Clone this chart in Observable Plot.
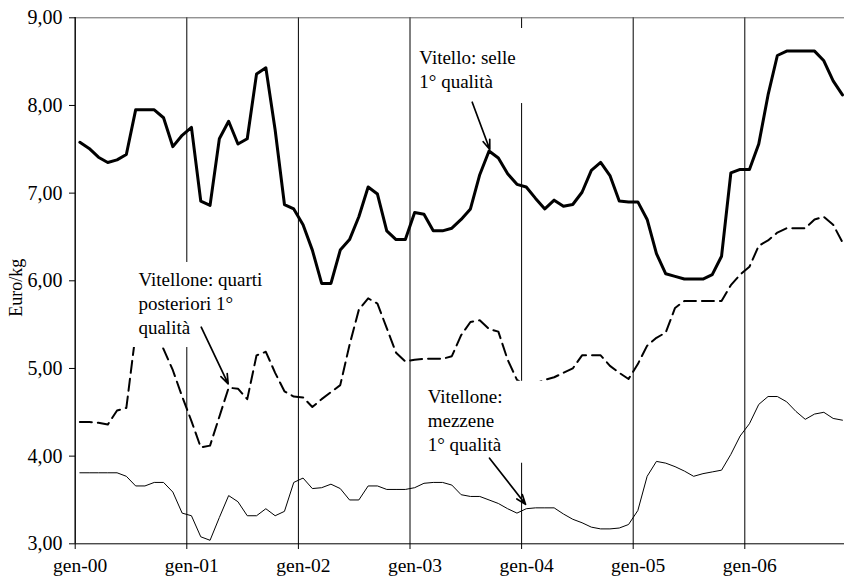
<!DOCTYPE html>
<html><head><meta charset="utf-8">
<script src="https://cdn.jsdelivr.net/npm/d3@7"></script>
<script src="https://cdn.jsdelivr.net/npm/@observablehq/plot@0.6"></script>
<style>html,body{margin:0;padding:0;background:#fff;overflow:hidden;}</style>
</head><body><div id="chart"></div>
<script>
// Monthly prices, gen-00 .. nov-06 (Euro/kg)
const vitello = [7.58,7.51,7.41,7.35,7.38,7.44,7.95,7.95,7.95,7.86,7.53,7.66,
  7.75,6.91,6.86,7.62,7.82,7.56,7.62,8.36,8.43,7.72,6.87,6.82,
  6.64,6.35,5.97,5.97,6.35,6.47,6.73,7.07,6.99,6.57,6.47,6.47,
  6.78,6.76,6.57,6.57,6.60,6.70,6.82,7.21,7.48,7.40,7.22,7.10,
  7.07,6.94,6.82,6.92,6.85,6.87,7.01,7.26,7.35,7.20,6.91,6.90,
  6.90,6.70,6.31,6.08,6.05,6.02,6.02,6.02,6.07,6.28,7.23,7.27,
  7.27,7.56,8.12,8.57,8.62,8.62,8.62,8.62,8.51,8.28,8.12];
const quarti = [4.39,4.39,4.38,4.36,4.52,4.55,5.40,5.55,5.45,5.22,4.98,4.68,
  4.40,4.10,4.12,4.45,4.78,4.77,4.65,5.15,5.19,4.95,4.74,4.68,
  4.67,4.56,4.65,4.73,4.81,5.27,5.67,5.80,5.74,5.46,5.18,5.08,
  5.10,5.11,5.11,5.11,5.14,5.38,5.53,5.55,5.45,5.42,5.10,4.87,
  4.80,4.83,4.87,4.90,4.95,5.00,5.15,5.15,5.15,5.03,4.95,4.88,
  5.05,5.26,5.35,5.41,5.69,5.77,5.77,5.77,5.77,5.77,5.95,6.07,
  6.16,6.40,6.46,6.55,6.60,6.60,6.60,6.70,6.73,6.64,6.44];
const mezzene = [3.81,3.81,3.81,3.81,3.81,3.77,3.66,3.66,3.70,3.70,3.59,3.35,
  3.32,3.08,3.04,3.30,3.55,3.48,3.32,3.32,3.40,3.32,3.37,3.70,
  3.75,3.63,3.64,3.68,3.63,3.50,3.50,3.66,3.66,3.62,3.62,3.62,
  3.64,3.69,3.70,3.70,3.67,3.56,3.54,3.54,3.50,3.46,3.40,3.35,
  3.40,3.41,3.41,3.41,3.34,3.28,3.24,3.19,3.17,3.17,3.18,3.22,
  3.38,3.77,3.94,3.92,3.88,3.83,3.77,3.80,3.82,3.84,4.02,4.23,
  4.37,4.59,4.68,4.68,4.62,4.51,4.42,4.48,4.50,4.43,4.41];
const yearLabels = ["gen-00","gen-01","gen-02","gen-03","gen-04","gen-05","gen-06"];
const yearStarts = [0,12,24,36,48,60,72];
const yTicks = [3,4,5,6,7,8,9];
const yTitle = "Euro/kg";
const yTitleM = -6.3, yTitleV = 5.92;

const labelTexts = ["Vitello: selle\n1° qualità", "Vitellone: quarti\nposteriori 1°\nqualità", "Vitellone:\nmezzene\n1° qualità"];
const labelM = [37.0, 6.8, 37.9];
const labelV = [8.667, 6.135, 4.80];
const boxM1 = [36.4, 6.27, 37.34], boxM2 = [48.96, 20.46, 50.57];
const boxV1 = [8.022, 5.239, 3.919], boxV2 = [8.878, 6.209, 4.854];
const arrM1 = [42.69, 13.55, 44.55], arrV1 = [8.037, 5.471, 3.977];
const arrM2 = [44.58, 16.45, 48.42], arrV2 = [7.498, 4.825, 3.450];

const rows = vals => vals.map((v, i) => ({m: i + 0.5, v}));
const labels = labelTexts.map((t, i) => ({t, m: labelM[i], v: labelV[i]}));
const boxes = boxM1.map((d, i) => ({m1: d, m2: boxM2[i], v1: boxV1[i], v2: boxV2[i]}));
const arrows = arrM1.map((d, i) => ({m1: d, v1: arrV1[i], m2: arrM2[i], v2: arrV2[i]}));

const chart = Plot.plot({
  width: 844, height: 580,
  marginLeft: 75, marginRight: 0, marginTop: 17, marginBottom: 37,
  style: {fontFamily: '"Liberation Serif", "Times New Roman", serif', fontSize: "20px", color: "#000", background: "#fff"},
  x: {domain: [0, 83], range: [74.7, 846.6]},
  y: {domain: [3, 9], range: [543.3, 17.3]},
  marks: [
    Plot.ruleX(yearStarts, {stroke: "#000", strokeWidth: 1}),
    Plot.ruleY([9], {stroke: "#666", strokeWidth: 1}),
    Plot.line(rows(mezzene), {x: "m", y: "v", stroke: "#000", strokeWidth: 1}),
    Plot.line(rows(quarti), {x: "m", y: "v", stroke: "#000", strokeWidth: 2, strokeDasharray: "12,6"}),
    Plot.line(rows(vitello), {x: "m", y: "v", stroke: "#000", strokeWidth: 3}),
    Plot.rect(boxes, {x1: "m1", x2: "m2", y1: "v1", y2: "v2", fill: "#fff"}),
    Plot.text(labels, {x: "m", y: "v", text: "t", textAnchor: "start", lineAnchor: "top", lineHeight: 1.26, fontSize: 19, fill: "#000"}),
    Plot.arrow(arrows, {x1: "m1", y1: "v1", x2: "m2", y2: "v2", stroke: "#000", strokeWidth: 1.7, headLength: 9, headAngle: 40}),
    Plot.ruleY([3], {stroke: "#000", strokeWidth: 1}),
    Plot.ruleX([0], {stroke: "#000", strokeWidth: 1}),
    Plot.axisX(yearStarts, {tickSize: 6, tickFormat: () => "", label: null, stroke: "#000"}),
    Plot.text(yearStarts, {x: d => d, frameAnchor: "bottom", text: d => yearLabels[yearStarts.indexOf(d)], lineAnchor: "top", dy: 15, dx: 5, fontSize: 19.5}),
    Plot.axisY(yTicks, {tickSize: 6, tickPadding: 7, tickFormat: d => d.toFixed(2).replace(".", ","), label: null, fontSize: 20}),
    Plot.text([yTitle], {x: () => yTitleM, y: () => yTitleV, text: d => d, rotate: -90, fontSize: 18})
  ]
});
document.getElementById("chart").appendChild(chart);
</script>
</body></html>
